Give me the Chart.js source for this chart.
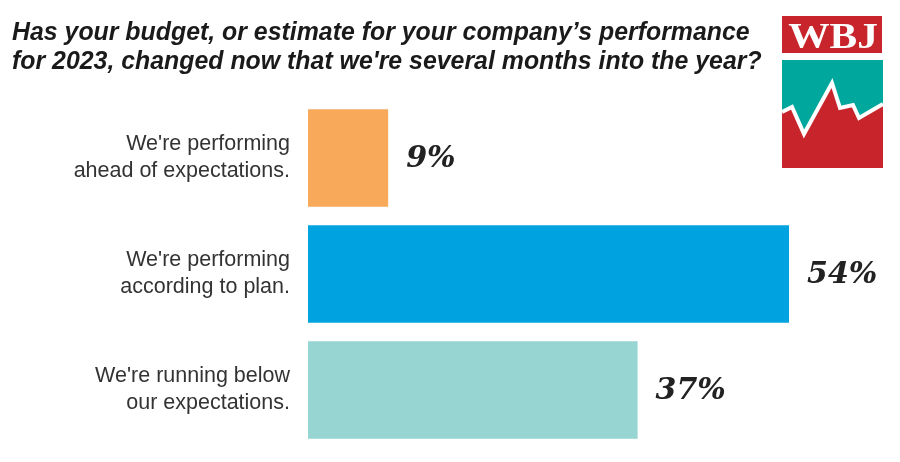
<!DOCTYPE html>
<html>
<head>
<meta charset="utf-8">
<script src="https://cdn.jsdelivr.net/npm/chart.js@4/dist/chart.umd.min.js"></script>
<style>
  html, body { margin: 0; background: #fff; }
  #wrap { width: 900px; height: 462px; }
</style>
</head>
<body>
<div id="wrap"><canvas id="chart"></canvas></div>
<script>
// Survey answers, share of respondents (%)
var categories = [
  ["We're performing", "ahead of expectations."],
  ["We're performing", "according to plan."],
  ["We're running below", "our expectations."]
];
var shares = [9, 54, 37];
var barColors = ["#F9A95A", "#00A3E0", "#97D5D2"];
var titleLines = [
  "Has your budget, or estimate for your company\u2019s performance",
  "for 2023, changed now that we're several months into the year?"
];

// title, value labels and the WBJ mark are painted after the bars
var decorations = {
  id: "decorations",
  afterDraw: function (chart) {
    var ctx = chart.ctx;
    ctx.save();

    // ── title ──
    ctx.fillStyle = "#1a1a1a";
    ctx.font = 'italic bold 25px "Liberation Sans", Arial, sans-serif';
    ctx.textAlign = "left";
    ctx.textBaseline = "alphabetic";
    titleLines.forEach(function (line, i) {
      ctx.save();
      ctx.translate(12, 40 + i * 29);
      ctx.scale(0.995, 1.05);
      ctx.fillText(line, 0, 0);
      ctx.restore();
    });

    // ── value labels ──
    var meta = chart.getDatasetMeta(0);
    ctx.font = 'italic bold 30px "DejaVu Serif", "Liberation Serif", serif';
    ctx.fillStyle = "#222";
    ctx.textBaseline = "middle";
    meta.data.forEach(function (bar, i) {
      ctx.fillText(shares[i] + "%", bar.x + 18, bar.y + 1);
    });

    // ── WBJ logo ──
    ctx.fillStyle = "#C8242B";
    ctx.fillRect(782, 16, 100, 37);
    ctx.fillStyle = "#fff";
    ctx.textAlign = "center";
    ctx.textBaseline = "alphabetic";
    ctx.font = 'bold 36px "Liberation Serif", serif';
    ctx.save();
    ctx.translate(833, 48);
    ctx.scale(1.15, 1);
    ctx.fillText("WBJ", 0, 0);
    ctx.restore();

    ctx.fillStyle = "#00A79D";
    ctx.fillRect(782, 60, 101, 108);
    var ridge = [[782, 112], [792, 107], [804, 134], [832, 83], [840, 108],
                 [853, 105], [859, 118], [883, 104]];
    ctx.beginPath();
    ridge.forEach(function (p, i) { if (i === 0) ctx.moveTo(p[0], p[1]); else ctx.lineTo(p[0], p[1]); });
    ctx.lineTo(883, 168);
    ctx.lineTo(782, 168);
    ctx.closePath();
    ctx.fillStyle = "#C8242B";
    ctx.fill();
    ctx.beginPath();
    ridge.forEach(function (p, i) { if (i === 0) ctx.moveTo(p[0], p[1]); else ctx.lineTo(p[0], p[1]); });
    ctx.strokeStyle = "#fff";
    ctx.lineWidth = 4;
    ctx.stroke();

    ctx.restore();
  }
};

new Chart(document.getElementById("chart"), {
  type: "bar",
  data: {
    labels: categories,
    datasets: [{
      data: shares,
      backgroundColor: barColors,
      borderWidth: 0,
      categoryPercentage: 0.84,
      barPercentage: 1
    }]
  },
  options: {
    indexAxis: "y",
    responsive: true,
    maintainAspectRatio: false,
    animation: false,
    layout: { padding: { top: 100, bottom: 14, left: 0, right: 13 } },
    plugins: {
      legend: { display: false },
      tooltip: { enabled: false }
    },
    scales: {
      x: {
        display: false,
        min: 0,
        max: 65
      },
      y: {
        grid: { display: false },
        border: { display: false },
        ticks: {
          color: "#333",
          padding: 10,
          font: { family: '"Liberation Sans", Arial, sans-serif', size: 21.5, lineHeight: 1.25 }
        },
        afterFit: function (scale) {
          scale.width = 308;
          scale.paddingTop = 0;
          scale.paddingBottom = 0;
        }
      }
    }
  },
  plugins: [decorations]
});
</script>
</body>
</html>
